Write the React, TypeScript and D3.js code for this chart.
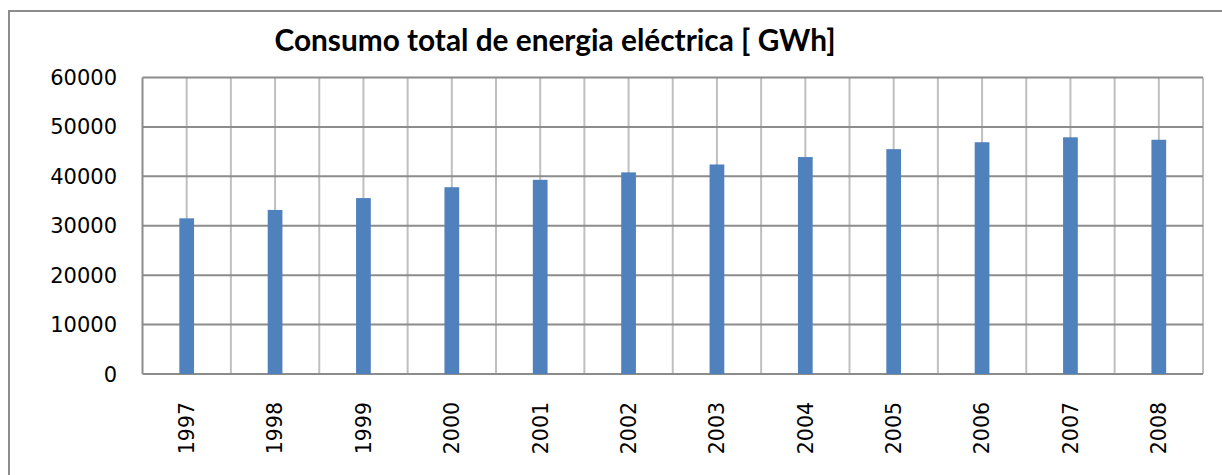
import React from "react";
import * as d3 from "d3";

const years = ["1997","1998","1999","2000","2001","2002","2003","2004","2005","2006","2007","2008"];
const consumo = [31500, 33200, 35600, 37800, 39300, 40800, 42400, 43900, 45500, 46900, 47900, 47400];
const yTicks = [0, 10000, 20000, 30000, 40000, 50000, 60000];
const title = "Consumo total de energia eléctrica [ GWh]";

const W = 1222, H = 475;
const plot = { left: 142.5, right: 1203, top: 77.5, bottom: 374 };

export default function App() {
  const x = d3.scaleBand<string>().domain(years).range([plot.left, plot.right]).paddingInner(0).paddingOuter(0);
  const y = d3.scaleLinear().domain([0, 60000]).range([plot.bottom, plot.top]);
  const bw = x.bandwidth();
  const barW = bw / 6;
  const vLines: number[] = [];
  years.forEach((yr, i) => {
    const x0 = x(yr)!;
    if (i > 0) vLines.push(x0);
    vLines.push(x0 + bw / 2);
  });
  vLines.push(plot.right);
  return (
    <svg width={W} height={H} style={{ position: "absolute", left: 0, top: 0, background: "#fff" }}>
      <rect x={9} y={11} width={W + 10} height={H + 10} fill="#fff" stroke="#8c8c8c" strokeWidth={2} />
      <text x={555} y={51} textAnchor="middle" fontFamily="Lato, 'Open Sans', sans-serif" fontWeight="bold" fontSize={29.8} fill="#000">{title}</text>
      {vLines.map((v, i) => (
        <line key={"v" + i} x1={v} x2={v} y1={plot.top} y2={plot.bottom} stroke="#bfbfbf" strokeWidth={2} />
      ))}
      {yTicks.map((t) => (
        <line key={"h" + t} x1={plot.left} x2={plot.right} y1={y(t)} y2={y(t)} stroke="#8c8c8c" strokeWidth={2} />
      ))}
      <line x1={plot.left} x2={plot.left} y1={plot.top} y2={plot.bottom} stroke="#8c8c8c" strokeWidth={2} />
      {years.map((yr, i) => (
        <rect key={yr} x={x(yr)! + bw / 2 - barW / 2} y={y(consumo[i])} width={barW} height={y(0) - y(consumo[i])} fill="#4f81bd" />
      ))}
      {yTicks.map((t) => (
        <text key={"t" + t} x={117} y={y(t)} dy="0.36em" textAnchor="end" fontFamily="'DejaVu Sans', sans-serif" fontSize={21} fill="#000">{t}</text>
      ))}
      {years.map((yr) => {
        const cx = x(yr)! + bw / 2;
        return (
          <text key={"x" + yr} transform={`translate(${cx},402) rotate(-90)`} dy="0.36em" textAnchor="end" fontFamily="'DejaVu Sans', sans-serif" fontSize={20.5} fill="#000">{yr}</text>
        );
      })}
    </svg>
  );
}
